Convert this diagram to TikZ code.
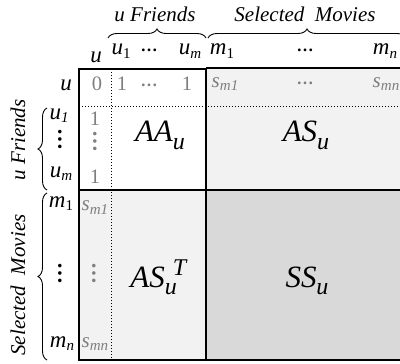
\documentclass[tikz,border=0pt]{standalone}
\usepackage{fontspec}
\setmainfont{Liberation Serif}
\usetikzlibrary{decorations.pathreplacing}
\definecolor{graytxt}{HTML}{7F7F7F}
\definecolor{lightfill}{HTML}{F2F2F2}
\definecolor{darkfill}{HTML}{D9D9D9}
\newcommand{\lo}[3]{\raisebox{-#1}{\fontsize{#2}{#2}\selectfont #3}}
\newcommand{\hi}[3]{\raisebox{#1}{\fontsize{#2}{#2}\selectfont #3}}
\newcommand{\hd}{\raisebox{3.5pt}{\fontsize{17}{17}\selectfont\textbf{…}}}
\newcommand{\gs}[1]{\fontsize{21}{22}\selectfont\textit{s}\lo{3pt}{15}{\textit{#1}}}
\begin{document}
\begin{tikzpicture}[x=1pt,y=-1pt,
  lbl/.style={anchor=base,inner sep=0pt,font=\fontsize{23}{25}\selectfont},
  gry/.style={anchor=base,inner sep=0pt,text=graytxt,font=\fontsize{20.5}{22}\selectfont},
  big/.style={anchor=base,inner sep=0pt,font=\fontsize{31}{33}\selectfont},
  hdr/.style={anchor=base,inner sep=0pt,font=\fontsize{21}{24}\selectfont\itshape},
  vdt/.style={inner sep=0pt,rotate=90,font=\fontsize{22}{22}\selectfont\bfseries},
  rot/.style={inner sep=0pt,rotate=90,font=\fontsize{21}{24}\selectfont\itshape},
  brc/.style={decorate,decoration={brace,amplitude=9pt},line width=0.9pt},
  frame/.style={line width=1.1pt},
  dotline/.style={dotted,line width=1pt}]
\useasboundingbox (0,0) rectangle (400,364);
\clip (0,0) rectangle (400,364);
% fills
\fill[lightfill] (206,68) rectangle (402,190);
\fill[lightfill] (79,190) rectangle (206,360);
\fill[darkfill] (206,190) rectangle (402,360);
% dotted lines
\draw[dotline] (111,69) -- (111,360);
\draw[dotline] (79,106) -- (402,106);
% frame
\draw[frame] (206,360) -- (79,360) -- (79,69) -- (206,69);
\draw[frame] (206,68) -- (402,68);
\draw[frame] (206,360) -- (402,360);
\draw[frame] (206,68) -- (206,360);
\draw[frame] (79,190) -- (402,190);
% headers
\node[hdr] (hF) at (155,21) {u Friends};
\node[hdr] (hM) at (305,21) {Selected\ \ Movies};
\draw[brc] (108,38) -- (206,38);
\draw[brc] (208,38) -- (406,38);
% column headers
\node[lbl] (cu) at (96,63) {\textit{u}};
\node[lbl] (cu1) at (121,55) {\textit{u}\lo{3pt}{15}{1}};
\node[lbl] (cud) at (149,55) {\hd};
\node[lbl] (cum) at (190,55) {\textit{u}\lo{3pt}{15}{\textit{m}}};
\node[lbl] (cm1) at (222,55) {\textit{m}\lo{3pt}{15}{1}};
\node[lbl] (cmd) at (305,55) {\hd};
\node[lbl] (cmn) at (385,55) {\textit{m}\lo{3pt}{15}{\textit{n}}};
% row u
\node[lbl] (ru) at (66,90) {\textit{u}};
\node[gry] (g0) at (97,90) {0};
\node[gry] (g1a) at (122,90) {1};
\node[gry] (gda) at (149,90) {\hd};
\node[gry] (g1b) at (187,90) {1};
\node[gry] (gs1) at (225,88) {\gs{m1}};
\node[gry] (gsd) at (305,88) {\hd};
\node[gry] (gsn) at (386,88) {\gs{mn}};
% row labels friends
\node[lbl] (ru1) at (59,119) {\textit{u}\lo{3pt}{15}{\textit{1}}};
\node[vdt] (rud) at (60,139) {…};
\node[lbl] (rum) at (61,177) {\textit{u}\lo{3pt}{15}{\textit{m}}};
\node[gry] (gc1) at (95,125) {1};
\node[vdt,text=graytxt] (gcd) at (95,142) {…};
\node[gry] (gc2) at (95,183) {1};
\draw[brc] (47,190) -- (47,108);
\node[rot] (vF) at (18,140) {u Friends};
% row labels movies
\node[lbl] (rm1) at (61,207) {\textit{m}\lo{3pt}{15}{1}};
\node[vdt] (rmd) at (60,273) {…};
\node[lbl] (rmn) at (62,347) {\textit{m}\lo{3pt}{15}{\textit{n}}};
\node[gry] (gm1) at (95,211) {\gs{m1}};
\node[vdt,text=graytxt] (gmd) at (94,273) {…};
\node[gry] (gmn) at (95,347) {\gs{mn}};
\draw[brc] (47,360) -- (47,193);
\node[rot] (vM) at (18,285) {Selected\ \ Movies};
% big labels
\node[big] (AA) at (160,142) {\textit{AA}\lo{7pt}{24}{\textit{u}}};
\node[big] (AS) at (306,142) {\textit{AS}\lo{7pt}{24}{\textit{u}}};
\node[big] (AST) at (159,287) {\textit{AS}\lo{7pt}{24}{\textit{u}}\hspace{-4pt}\hi{12pt}{24}{\textit{T}}};
\node[big] (SS) at (307,287) {\textit{SS}\lo{7pt}{24}{\textit{u}}};
\end{tikzpicture}
\end{document}
